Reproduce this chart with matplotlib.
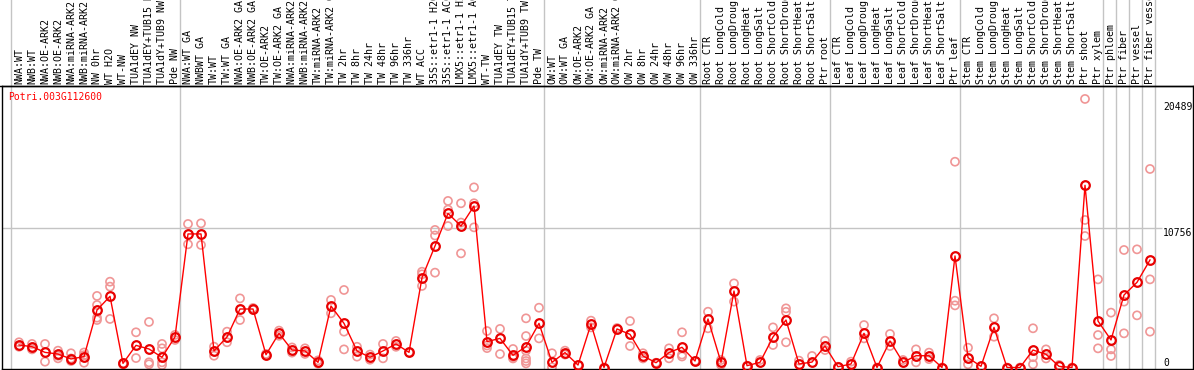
import matplotlib
matplotlib.use("Agg")
import matplotlib.pyplot as plt
from matplotlib.lines import Line2D

title = "Potri.003G112600"

labels = [
    # group 1
    "NWA:WT", "NWB:WT", "NWA:OE-ARK2", "NWB:OE-ARK2", "NWA:miRNA-ARK2", "NWB:miRNA-ARK2",
    "NW 0hr", "WT H2O", "WT-NW", "TUA1dEY NW", "TUA1dEY+TUB15 NW", "TUA1dY+TUB9 NW", "Pde NW",
    # group 2
    "NWA:WT GA", "NWBWT GA", "TW:WT", "TW:WT GA", "NWA:OE-ARK2 GA", "NWB:OE-ARK2 GA",
    "TW:OE-ARK2", "TW:OE-ARK2 GA", "NWA:miRNA-ARK2 GA", "NWB:miRNA-ARK2 GA",
    "TW:miRNA-ARK2", "TW:miRNA-ARK2 GA", "TW 2hr", "TW 8hr", "TW 24hr", "TW 48hr", "TW 96hr",
    "TW 336hr", "WT ACC", "35S::etr1-1 H2O", "35S::etr1-1 ACC", "LMX5::etr1-1 H2O",
    "LMX5::etr1-1 ACC", "WT-TW", "TUA1dEY TW", "TUA1dEY+TUB15 TW", "TUA1dY+TUB9 TW", "Pde TW",
    # group 3
    "OW:WT", "OW:WT GA", "OW:OE-ARK2", "OW:OE-ARK2 GA", "OW:miRNA-ARK2", "OW:miRNA-ARK2 GA",
    "OW 2hr", "OW 8hr", "OW 24hr", "OW 48hr", "OW 96hr", "OW 336hr",
    # root
    "Root CTR", "Root LongCold", "Root LongDrought", "Root LongHeat", "Root LongSalt",
    "Root ShortCold", "Root ShortDrought", "Root ShortHeat", "Root ShortSalt", "Ptr root",
    # leaf
    "Leaf CTR", "Leaf LongCold", "Leaf LongDrought", "Leaf LongHeat", "Leaf LongSalt",
    "Leaf ShortCold", "Leaf ShortDrought", "Leaf ShortHeat", "Leaf ShortSalt", "Ptr leaf",
    # stem
    "Stem CTR", "Stem LongCold", "Stem LongDrought", "Stem LongHeat", "Stem LongSalt",
    "Stem ShortCold", "Stem ShortDrought", "Stem ShortHeat", "Stem ShortSalt", "Ptr shoot",
    "Ptr xylem",
    # ptr
    "Ptr phloem", "Ptr fiber", "Ptr vessel", "Ptr fiber vessel",
]

means = [
    1740, 1610, 1170, 1040, 660, 840, 4440, 5500, 320, 1710, 1430, 790, 2360,
    10320, 10320, 1280, 2360, 4520, 4520, 990, 2640, 1350, 1280, 400, 4750, 3410, 1280,
    790, 1280, 1820, 1170, 6940, 9390, 11910, 10930, 12480, 2000, 2250, 940, 1610, 3410,
    400, 1150, 190, 3360, 0, 2980, 2560, 890, 370, 1150, 1560, 500,
    3750, 400, 5910, 140, 400, 2360, 3670, 270, 420, 1660,
    60, 270, 2640, 0, 2050, 400, 910, 910, 0, 8620,
    760, 90, 3100, 0, 0, 1350, 1020, 90, 0, 14080, 3590,
    2130, 5600, 6580, 8310,
]

replicates = [
    [1950, 1600], [1820, 1400, 1550], [1820, 450], [1300, 710, 900], [1100, 500, 700],
    [1160, 370, 950], [5530, 4830, 3670, 3850], [6630, 6250, 3750], [320, 250],
    [2720, 730], [3520, 400, 250], [1820, 1480, 190, 400], [2520, 2130],
    [11090, 9520], [11140, 9470], [1610, 910], [2770, 1950], [5340, 3670], [4450, 4600],
    [950, 1050], [2850, 2450], [1550, 1150], [1480, 1050], [550, 300], [5220, 4190],
    [5990, 2770, 1400], [1600, 840], [1000, 600], [1820, 710], [2050, 1600], [1170],
    [7400, 6300, 7200], [10630, 10200, 7330], [12870, 12200, 10930], [12690, 11200, 8820],
    [13920, 12690, 10830], [2820, 1500, 1700], [2980, 1040], [1430, 800, 700],
    [3800, 2430, 1300, 700, 320, 500], [4620, 2250],
    [1100, 15], [1300, 1000], [190], [3620, 3100], [0], [3050], [3590, 1660], [1100, 700],
    [370], [1480, 710], [2720, 1000, 850], [500],
    [4310, 3030], [580, 200], [6500, 5090], [140], [580], [3100, 1740], [4570, 4300, 1950],
    [530], [890], [2070, 1350],
    [60], [450], [3280, 2250], [0], [2590, 1660], [580], [1400, 400], [1150, 650], [0],
    [15900, 5160, 4800],
    [1530, 250], [90], [3800, 2380], [0], [0], [3030, 800, 250], [1400, 700], [200], [0],
    [20750, 11400, 10160], [6810, 2510, 1480],
    [4240, 1400, 890], [9080, 5090, 2640], [9130, 4030], [15340, 6810, 2770],
]

group_starts = [0, 13, 41, 53, 63, 73, 84, 85, 86, 87, 88]
ytick_values = [0, 10756, 20489]

W, H = 1194, 370
fig = plt.figure(figsize=(W / 100, H / 100), dpi=100)
ax_left, ax_right, ax_top, ax_bottom = 2, 1193, 86, 369
ax = fig.add_axes([ax_left / W, (H - ax_bottom) / H, (ax_right - ax_left) / W,
                   (ax_bottom - ax_top) / H])

# pixel mapping helpers (column i centre at 19 + 13*i px)
x0, dx = 19.0, 13.0
ax.set_xlim((ax_left - x0) / dx, (ax_right - x0) / dx)
zero_px, scale = 367.5, 77.27
ax.set_ylim((zero_px - ax_bottom) * scale, (zero_px - ax_top) * scale)
ax.set_xticks([])
ax.set_yticks([])
for s in ax.spines.values():
    s.set_color("black")
    s.set_linewidth(1)

mono = "DejaVu Sans Mono"
grey = "#c4c4c4"

# group separator lines (span label area too)
extra = (ax_bottom - 0) / (ax_bottom - ax_top)
for b in group_starts:
    ax.axvline(b - 8 / 13, 0, extra, color=grey, lw=1, clip_on=False, zorder=1)

# horizontal grid at middle tick
ax.hlines(10756, ax.get_xlim()[0], (1162 - x0) / dx, color=grey, lw=1, zorder=1)

# black line under label area across full width
fig.add_artist(Line2D([0, 1], [(H - 85.5) / H] * 2, color="black", lw=1))

# replicates
xs, ys = [], []
for i, reps in enumerate(replicates):
    for r in reps:
        xs.append(i)
        ys.append(r)
ax.scatter(xs, ys, s=34, facecolors="none", edgecolors="#f09696", linewidths=1.2, zorder=2)

# mean line
idx = list(range(len(means)))
ax.plot(idx, means, color="#ff0000", lw=1, zorder=3)
ax.plot(idx, means, ls="none", marker="o", ms=6.2, mfc="none", mec="#e80000", mew=1.6, zorder=4)

# column labels
label_y = (H - 84) / H
import matplotlib.transforms as mtrans
trans = mtrans.blended_transform_factory(ax.transData, fig.transFigure)
for i, lab in enumerate(labels):
    ax.text(i, label_y, lab, rotation=90, ha="center", va="bottom", transform=trans,
            fontsize=7.2, family=mono, color="black", clip_on=False)

# y labels on right
xlab = (1163 - x0) / dx
for v in ytick_values:
    ax.text(xlab, v, str(v), ha="left", va="bottom" if v == 0 else "top",
            fontsize=7, family=mono, color="black")

# title
fig.text(8 / W, 1 - 97 / H, title, color="red", fontsize=7, family=mono,
         ha="left", va="center")

fig.savefig("out.png", dpi=100)
